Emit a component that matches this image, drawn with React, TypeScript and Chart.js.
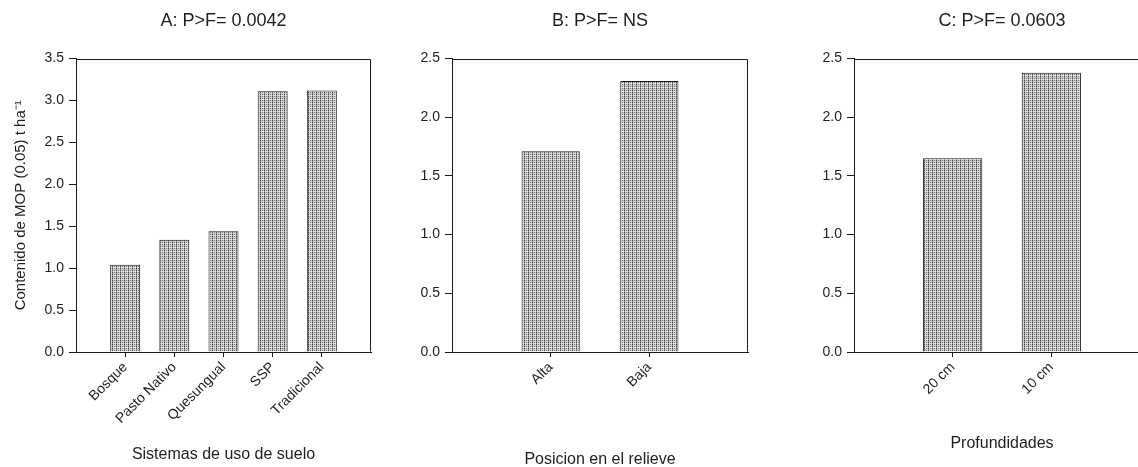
import React, { useEffect, useRef } from "react";
import { Chart, registerables } from "chart.js";

Chart.register(...registerables);

// ---- Data ----
const usoCategories = ["Bosque", "Pasto Nativo", "Quesungual", "SSP", "Tradicional"];
const usoValues = [1.04, 1.34, 1.44, 3.11, 3.12];

const relieveCategories = ["Alta", "Baja"];
const relieveValues = [1.71, 2.31];

const profCategories = ["20 cm", "10 cm"];
const profValues = [1.65, 2.38];

const panelTitles = ["A: P>F= 0.0042", "B: P>F= NS", "C: P>F= 0.0603"];
const xAxisTitles = ["Sistemas de uso de suelo", "Posicion en el relieve", "Profundidades"];
const yAxisTitle = "Contenido de MOP (0.05) t ha\u207B\u00B9";
const yMaxima = [3.5, 2.5, 2.5];
const yStep = 0.5;

// ---- Layout (styles, not data) ----
const FONT = "'Liberation Sans', Arial, Helvetica, sans-serif";
const TEXT = "#1e1e1e";
const LINE = "#1a1a1a";
const CANVAS_H = 467;
const CHART_BOTTOM = 352;

type Panel = {
  left: number;
  width: number;
  yWidth: number;
  padRight: number;
  xTitlePadBottom: number;
  barPct: number;
  cats: string[];
  vals: number[];
  title: string;
  xTitle: string;
  yTitle?: string;
  yMax: number;
};

const panels: Panel[] = [
  { left: 0, width: 380, yWidth: 76, padRight: 9, xTitlePadBottom: 3, barPct: 0.61,
    cats: usoCategories, vals: usoValues, title: panelTitles[0], xTitle: xAxisTitles[0], yTitle: yAxisTitle, yMax: yMaxima[0] },
  { left: 380, width: 380, yWidth: 72, padRight: 12, xTitlePadBottom: -2, barPct: 0.59,
    cats: relieveCategories, vals: relieveValues, title: panelTitles[1], xTitle: xAxisTitles[1], yMax: yMaxima[1] },
  { left: 760, width: 400, yWidth: 94, padRight: 10, xTitlePadBottom: 14, barPct: 0.6,
    cats: profCategories, vals: profValues, title: panelTitles[2], xTitle: xAxisTitles[2], yMax: yMaxima[2] },
];

function makePattern(): CanvasPattern | string {
  const c = document.createElement("canvas");
  c.width = 4;
  c.height = 4;
  const ctx = c.getContext("2d");
  if (!ctx) return "#afafaf";
  const px = (x: number, y: number, col: string) => {
    ctx.fillStyle = col;
    ctx.fillRect(x, y, 1, 1);
  };
  ctx.fillStyle = "#cfcfcf";
  ctx.fillRect(0, 0, 4, 4);
  ctx.fillStyle = "#e4e4e4";
  ctx.fillRect(0, 3, 4, 1);
  px(0, 0, "#3c3c3c");
  px(0, 2, "#3c3c3c");
  px(0, 1, "#9a9a9a");
  px(0, 3, "#9a9a9a");
  px(2, 0, "#777777");
  px(2, 2, "#777777");
  const p = ctx.createPattern(c, "repeat");
  return p || "#afafaf";
}

const boxPlugin = {
  id: "frameBox",
  afterDatasetsDraw(chart: any) {
    const { ctx, chartArea } = chart;
    const l = Math.round(chartArea.left) + 0.5;
    const t = Math.round(chartArea.top) + 0.5;
    const r = Math.round(chartArea.right) - 0.5;
    const b = Math.round(chartArea.bottom) - 0.5;
    ctx.save();
    ctx.strokeStyle = LINE;
    ctx.lineWidth = 1;
    ctx.beginPath();
    ctx.moveTo(l, t);
    ctx.lineTo(r, t);
    ctx.lineTo(r, b);
    ctx.stroke();
    ctx.restore();
  },
};

function PanelChart({ p }: { p: Panel }) {
  const ref = useRef<HTMLCanvasElement | null>(null);
  useEffect(() => {
    if (!ref.current) return;
    const pattern = makePattern();
    const xHeight = CANVAS_H - CHART_BOTTOM;
    const chart = new Chart(ref.current, {
      type: "bar",
      data: {
        datasets: [
          {
            data: p.cats.map((c, i) => ({ x: i + 1, y: p.vals[i] })),
            backgroundColor: pattern as any,
            borderColor: LINE,
            borderWidth: 1,
            barPercentage: p.barPct,
            categoryPercentage: 1,
          },
        ],
      },
      options: {
        responsive: false,
        animation: false,
        devicePixelRatio: 1,
        layout: { padding: { left: 0, right: p.padRight, top: 0, bottom: 0 } },
        plugins: {
          legend: { display: false },
          tooltip: { enabled: false },
          title: {
            display: true,
            text: p.title,
            fullSize: false,
            color: TEXT,
            font: { family: FONT, size: 18, weight: "normal" },
            padding: { top: 10, bottom: 27 },
          },
        },
        scales: {
          x: {
            type: "linear",
            min: 0,
            max: p.cats.length + 1,
            offset: false,
            afterBuildTicks: (s: any) => {
              s.ticks = p.cats.map((_, i) => ({ value: i + 1 }));
            },
            afterFit: (s: any) => {
              s.height = xHeight;
            },
            grid: {
              display: true,
              offset: false,
              drawOnChartArea: false,
              drawTicks: true,
              tickLength: 5,
              color: LINE,
            },
            border: { display: true, color: LINE, width: 1 },
            ticks: {
              autoSkip: false,
              minRotation: 45,
              maxRotation: 45,
              padding: 2,
              color: TEXT,
              font: { family: FONT, size: 14 },
              callback: (v: any) => p.cats[Number(v) - 1] ?? "",
            },
            title: {
              display: true,
              text: p.xTitle,
              color: TEXT,
              font: { family: FONT, size: 16 },
              padding: { top: 0, bottom: p.xTitlePadBottom },
            },
          },
          y: {
            min: 0,
            max: p.yMax,
            afterFit: (s: any) => {
              s.width = p.yWidth;
            },
            grid: { display: true, drawOnChartArea: false, drawTicks: true, tickLength: 7, color: LINE },
            border: { display: true, color: LINE, width: 1 },
            ticks: {
              stepSize: yStep,
              padding: 5,
              color: TEXT,
              font: { family: FONT, size: 14 },
              callback: (v: any) => Number(v).toFixed(1),
            },
            title: p.yTitle
              ? {
                  display: true,
                  text: p.yTitle,
                  color: TEXT,
                  font: { family: FONT, size: 15 },
                  padding: { top: 12, bottom: 0 },
                }
              : { display: false },
          },
        },
      },
      plugins: [boxPlugin],
    } as any);
    return () => chart.destroy();
  }, [p]);
  return (
    <canvas
      ref={ref}
      width={p.width}
      height={CANVAS_H}
      style={{ position: "absolute", left: p.left, top: 0, width: p.width, height: CANVAS_H }}
    />
  );
}

export default function App() {
  return (
    <div
      style={{
        position: "fixed",
        left: 0,
        top: 0,
        width: 1138,
        height: CANVAS_H,
        overflow: "hidden",
        background: "#fff",
      }}
    >
      {panels.map((p, i) => (
        <PanelChart key={i} p={p} />
      ))}
    </div>
  );
}
